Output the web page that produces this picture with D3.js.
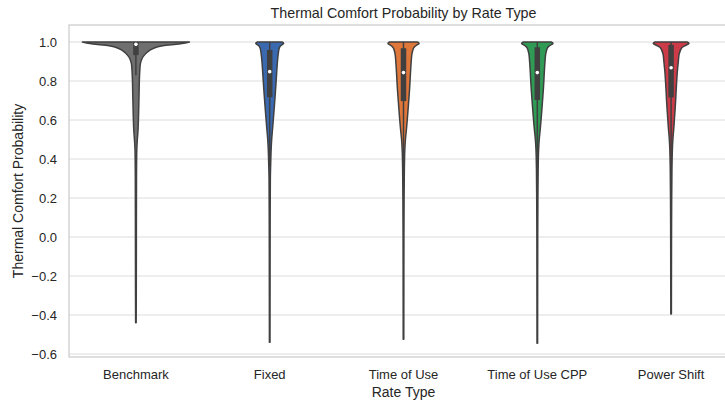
<!DOCTYPE html>
<html>
<head>
<meta charset="utf-8">
<script src="https://cdn.jsdelivr.net/npm/d3@7"></script>
<style>
  html, body { margin: 0; padding: 0; background: #ffffff; }
  svg { display: block; font-family: Arial, "Liberation Sans", sans-serif; }
</style>
</head>
<body>
<svg id="chart" width="725" height="400"></svg>
<script>
// Rate types along the x axis
const categories = ["Benchmark", "Fixed", "Time of Use", "Time of Use CPP", "Power Shift"];
const fills = ["#6f6f6f", "#3a69b0", "#e0773a", "#2f9b55", "#cb3b48"];

// Y axis ticks
const yTicks = [-0.6, -0.4, -0.2, 0.0, 0.2, 0.4, 0.6, 0.8, 1.0];

// Kernel density outline per rate type: [probability, relative half-width]
const densityBenchmark = [
  [1.0, 1.0], [0.992, 0.86], [0.983, 0.56], [0.973, 0.38], [0.96, 0.27], [0.945, 0.2],
  [0.93, 0.15], [0.918, 0.12], [0.89, 0.085], [0.85, 0.072], [0.8, 0.064], [0.75, 0.06],
  [0.7, 0.056], [0.6, 0.047], [0.55, 0.04], [0.5, 0.027], [0.45, 0.017], [0.3, 0.011],
  [0.0, 0.009], [-0.3, 0.007], [-0.44, 0.005]
];
const densityFixed = [
  [1.0, 0.23], [0.993, 0.26], [0.982, 0.21], [0.97, 0.18], [0.94, 0.16], [0.9, 0.145],
  [0.85, 0.132], [0.77, 0.113], [0.7, 0.095], [0.6, 0.067], [0.55, 0.052], [0.5, 0.037],
  [0.45, 0.027], [0.38, 0.019], [0.3, 0.012], [0.0, 0.008], [-0.3, 0.0065], [-0.54, 0.0055]
];
const densityTimeOfUse = [
  [1.0, 0.26], [0.993, 0.29], [0.982, 0.235], [0.97, 0.19], [0.94, 0.158], [0.9, 0.144],
  [0.85, 0.132], [0.77, 0.116], [0.7, 0.098], [0.6, 0.07], [0.55, 0.054], [0.5, 0.036],
  [0.45, 0.025], [0.35, 0.016], [0.2, 0.011], [0.0, 0.008], [-0.3, 0.0065], [-0.525, 0.0055]
];
const densityTimeOfUseCPP = [
  [1.0, 0.26], [0.993, 0.293], [0.982, 0.235], [0.97, 0.19], [0.94, 0.158], [0.9, 0.144],
  [0.85, 0.132], [0.77, 0.116], [0.7, 0.098], [0.6, 0.07], [0.55, 0.054], [0.5, 0.036],
  [0.45, 0.025], [0.35, 0.016], [0.2, 0.011], [0.0, 0.008], [-0.3, 0.0065], [-0.545, 0.0055]
];
const densityPowerShift = [
  [1.0, 0.3], [0.993, 0.333], [0.982, 0.265], [0.97, 0.2], [0.94, 0.152], [0.9, 0.135],
  [0.85, 0.117], [0.77, 0.098], [0.7, 0.085], [0.6, 0.061], [0.55, 0.048], [0.5, 0.033],
  [0.45, 0.024], [0.35, 0.016], [0.2, 0.011], [0.0, 0.008], [-0.2, 0.0065], [-0.395, 0.0055]
];
const densities = [densityBenchmark, densityFixed, densityTimeOfUse, densityTimeOfUseCPP, densityPowerShift];

// Box summary per rate type
const q1Values      = [0.933, 0.717, 0.697, 0.703, 0.716];
const medianValues  = [0.988, 0.848, 0.843, 0.843, 0.868];
const q3Values      = [1.0,   0.959, 0.968, 0.973, 0.985];
const whiskerLow    = [0.83,  0.36,  0.29,  0.30,  0.31];
const whiskerHigh   = [1.0,   1.0,   1.0,   1.0,   1.0];

const svg = d3.select("#chart");
const textColor = "#262626";
const edgeColor = "#404040";

const plot = { left: 69, right: 738, top: 25, bottom: 357 };

const x = d3.scaleBand().domain(categories).range([plot.left, plot.right]).padding(0);
const y = d3.scaleLinear().domain([-0.6154, 1.0872]).range([plot.bottom, plot.top]);
const w = d3.scaleLinear().domain([0, 1]).range([0, x.bandwidth() * 0.4]);

// Horizontal grid lines
svg.append("g")
  .selectAll("line")
  .data(yTicks)
  .join("line")
  .attr("x1", plot.left).attr("x2", plot.right)
  .attr("y1", d => y(d)).attr("y2", d => y(d))
  .attr("stroke", "#dcdcdc").attr("stroke-width", 1);

// Plot frame
svg.append("rect")
  .attr("x", plot.left).attr("y", plot.top)
  .attr("width", plot.right - plot.left).attr("height", plot.bottom - plot.top)
  .attr("fill", "none").attr("stroke", "#cccccc").attr("stroke-width", 1.25);

// Axes (labels only, no tick marks)
const yAxis = d3.axisLeft(y).tickValues(yTicks).tickSize(0).tickPadding(12)
  .tickFormat(d => d3.format(".1f")(d).replace("-", "\u2212"));
svg.append("g")
  .attr("transform", `translate(${plot.left},0)`)
  .call(yAxis)
  .call(g => g.select(".domain").remove())
  .call(g => g.selectAll("text").attr("fill", textColor).attr("font-size", 13)
    .attr("font-family", "Arial, 'Liberation Sans', sans-serif"));

const xAxis = d3.axisBottom(x).tickSize(0).tickPadding(13);
svg.append("g")
  .attr("transform", `translate(0,${plot.bottom})`)
  .call(xAxis)
  .call(g => g.select(".domain").remove())
  .call(g => g.selectAll("text").attr("fill", textColor).attr("font-size", 13)
    .attr("font-family", "Arial, 'Liberation Sans', sans-serif"));

// Violins
const area = d3.area()
  .y(d => y(d[0]))
  .curve(d3.curveCatmullRom.alpha(0.5));

categories.forEach((cat, i) => {
  const cx = x(cat) + x.bandwidth() / 2;
  const g = svg.append("g");
  g.append("path")
    .datum(densities[i])
    .attr("d", area.x0(d => cx - w(d[1])).x1(d => cx + w(d[1])))
    .attr("fill", fills[i])
    .attr("stroke", edgeColor)
    .attr("stroke-width", 1.5)
    .attr("stroke-linejoin", "round");

  // whisker
  g.append("line")
    .attr("x1", cx).attr("x2", cx)
    .attr("y1", y(whiskerLow[i])).attr("y2", y(whiskerHigh[i]))
    .attr("stroke", edgeColor).attr("stroke-width", 1.5);
  // interquartile box
  g.append("line")
    .attr("x1", cx).attr("x2", cx)
    .attr("y1", y(q1Values[i])).attr("y2", y(q3Values[i]))
    .attr("stroke", edgeColor).attr("stroke-width", 5.5);
  // median
  g.append("circle")
    .attr("cx", cx).attr("cy", y(medianValues[i]))
    .attr("r", 1.8).attr("fill", "#ffffff");
});

// Titles
svg.append("text")
  .attr("x", (plot.left + plot.right) / 2).attr("y", 18)
  .attr("text-anchor", "middle").attr("font-size", 14.3).attr("fill", textColor)
  .text("Thermal Comfort Probability by Rate Type");

svg.append("text")
  .attr("x", (plot.left + plot.right) / 2).attr("y", 397)
  .attr("text-anchor", "middle").attr("font-size", 14).attr("fill", textColor)
  .text("Rate Type");

svg.append("text")
  .attr("transform", `translate(23,${(plot.top + plot.bottom) / 2}) rotate(-90)`)
  .attr("text-anchor", "middle").attr("font-size", 14).attr("fill", textColor)
  .text("Thermal Comfort Probability");
</script>
</body>
</html>
